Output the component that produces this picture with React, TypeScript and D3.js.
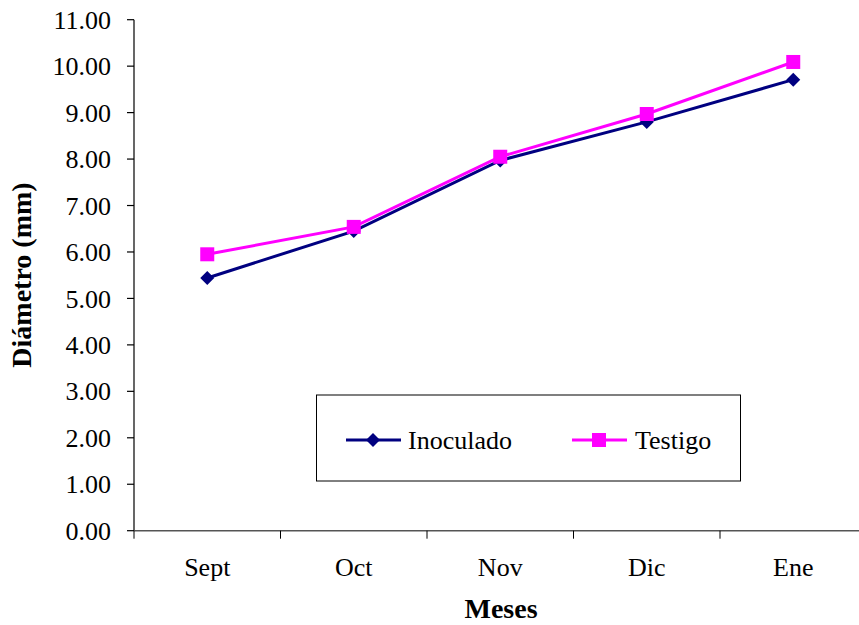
import React from "react";
import * as d3 from "d3";

const months = ["Sept", "Oct", "Nov", "Dic", "Ene"];
const inoculado = [5.44, 6.45, 7.97, 8.8, 9.71];
const testigo = [5.95, 6.54, 8.05, 8.97, 10.09];
const yTicks = [0, 1, 2, 3, 4, 5, 6, 7, 8, 9, 10, 11];
const seriesNames = ["Inoculado", "Testigo"];

const W = 859;
const H = 625;
const FONT = '"Liberation Serif", "Times New Roman", serif';
const FS = 26;

export default function App() {
  const left = 134;
  const top = 19.7;
  const bottom = 530.7;
  const x = d3.scaleBand<string>().domain(months).range([left, left + 146.5 * 5]);
  const y = d3.scaleLinear().domain([0, 11]).range([bottom, top]);
  const cx = (m: string) => (x(m) as number) + x.bandwidth() / 2;

  const line = d3
    .line<number>()
    .x((_, i) => cx(months[i]))
    .y((v) => y(v));

  const diamond = (px: number, py: number, r: number) =>
    `M${px},${py - r}L${px + r},${py}L${px},${py + r}L${px - r},${py}Z`;

  const navy = "#000080";
  const magenta = "#FF00FF";
  const txt = { fontFamily: FONT, fontSize: FS };
  const title = { fontFamily: FONT, fontSize: 28, fontWeight: "bold" as const };

  return (
    <svg width={W} height={H} style={{ position: "absolute", left: 0, top: 0, background: "#fff" }}>
      {/* y axis */}
      <line x1={left} x2={left} y1={top} y2={bottom} stroke="#000" strokeWidth={1.2} />
      {yTicks.map((t) => (
        <g key={t}>
          <line x1={left - 7} x2={left} y1={y(t)} y2={y(t)} stroke="#000" strokeWidth={1.2} />
          <text x={111} y={y(t)} dy="0.35em" textAnchor="end" style={txt} fill="#000">
            {t.toFixed(2)}
          </text>
        </g>
      ))}
      {/* x axis */}
      <line x1={left} x2={W} y1={bottom} y2={bottom} stroke="#555" strokeWidth={1.5} />
      {months.map((m) => (
        <g key={m}>
          <line
            x1={x(m) as number}
            x2={x(m) as number}
            y1={bottom}
            y2={bottom + 8}
            stroke="#000"
            strokeWidth={1}
          />
          <text x={cx(m)} y={576} textAnchor="middle" style={txt} fill="#000">
            {m}
          </text>
        </g>
      ))}
      <text x={501} y={618} textAnchor="middle" style={title}>
        Meses
      </text>
      <text transform="translate(31,275) rotate(-90)" textAnchor="middle" style={title}>
        Diámetro (mm)
      </text>

      {/* series */}
      <path d={line(inoculado) || ""} fill="none" stroke={navy} strokeWidth={3} />
      {inoculado.map((v, i) => (
        <path key={i} d={diamond(cx(months[i]), y(v), 7)} fill={navy} />
      ))}
      <path d={line(testigo) || ""} fill="none" stroke={magenta} strokeWidth={3} />
      {testigo.map((v, i) => (
        <rect key={i} x={cx(months[i]) - 7} y={y(v) - 7} width={14} height={14} fill={magenta} />
      ))}

      {/* legend */}
      <rect x={316.5} y={395} width={424} height={86} fill="#fff" stroke="#000" strokeWidth={1} />
      <line x1={346} x2={401} y1={440} y2={440} stroke={navy} strokeWidth={3} />
      <path d={diamond(373, 440, 7)} fill={navy} />
      <text x={408} y={440} dy="0.35em" style={txt}>
        {seriesNames[0]}
      </text>
      <line x1={572} x2={627} y1={440} y2={440} stroke={magenta} strokeWidth={3} />
      <rect x={592} y={433} width={14} height={14} fill={magenta} />
      <text x={635} y={440} dy="0.35em" style={txt}>
        {seriesNames[1]}
      </text>
    </svg>
  );
}
